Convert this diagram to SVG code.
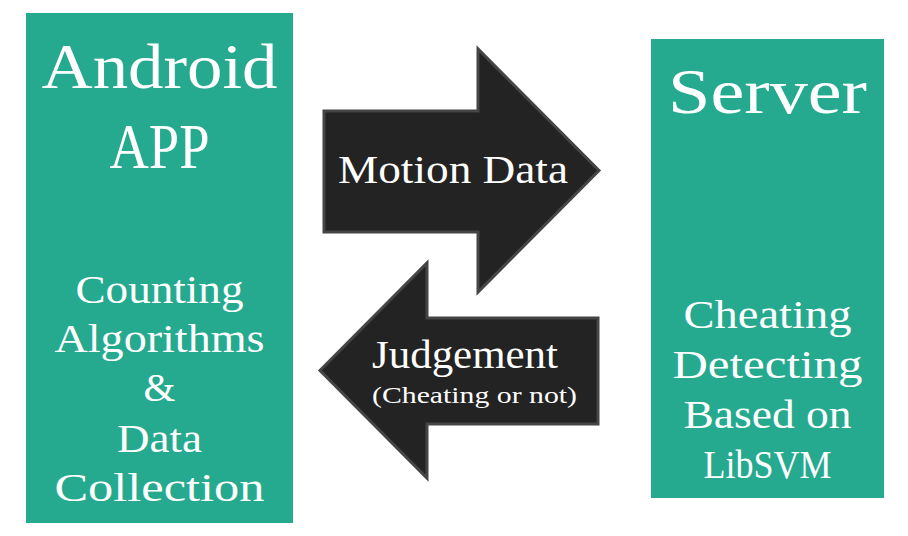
<svg xmlns="http://www.w3.org/2000/svg" width="908" height="536" viewBox="0 0 908 536">
<style>
.box{fill:#25aa8f}
.t{fill:#ffffff;font-family:"Liberation Serif","DejaVu Serif",serif;text-anchor:middle}
.big{font-size:64px}
.mid{font-size:41px}
.sm{font-size:23px}
.arrow{fill:#232323;stroke:#454545;stroke-width:3;stroke-linejoin:miter}
</style>
<rect width="908" height="536" fill="#ffffff"/>
<g id="android">
<rect class="box" x="26" y="13" width="267" height="510"/>
<text class="t big" x="159.5" y="88" textLength="236" lengthAdjust="spacingAndGlyphs">Android</text>
<text class="t big" x="159.5" y="168" textLength="100" lengthAdjust="spacingAndGlyphs">APP</text>
<text class="t mid" x="159.5" y="303" textLength="168" lengthAdjust="spacingAndGlyphs">Counting</text>
<text class="t mid" x="159.5" y="352" textLength="210" lengthAdjust="spacingAndGlyphs">Algorithms</text>
<text class="t mid" x="159.5" y="401">&amp;</text>
<text class="t mid" x="159.5" y="452" textLength="85" lengthAdjust="spacingAndGlyphs">Data</text>
<text class="t mid" x="159.5" y="501" textLength="210" lengthAdjust="spacingAndGlyphs">Collection</text>
</g>
<g id="server">
<rect class="box" x="651" y="39" width="233" height="459"/>
<text class="t big" x="767.5" y="113" textLength="199" lengthAdjust="spacingAndGlyphs">Server</text>
<text class="t mid" x="767.5" y="328" textLength="168" lengthAdjust="spacingAndGlyphs">Cheating</text>
<text class="t mid" x="767.5" y="378" textLength="190" lengthAdjust="spacingAndGlyphs">Detecting</text>
<text class="t mid" x="767.5" y="428" textLength="168" lengthAdjust="spacingAndGlyphs">Based on</text>
<text class="t mid" x="767.5" y="478" textLength="128" lengthAdjust="spacingAndGlyphs">LibSVM</text>
</g>
<g id="connectors">
<g id="motion-data">
<path class="arrow" d="M324,111 L478,111 L478,49 L599,170.5 L478,292 L478,232 L324,232 Z"/>
<text class="t mid" x="453" y="183" textLength="230" lengthAdjust="spacingAndGlyphs">Motion Data</text>
</g>
<g id="judgement">
<path class="arrow" d="M598,318 L427,318 L427,263 L320,370.5 L427,478 L427,424 L598,424 Z"/>
<text class="t mid" x="465" y="368" textLength="186" lengthAdjust="spacingAndGlyphs">Judgement</text>
<text class="t sm" x="474.5" y="403" textLength="205" lengthAdjust="spacingAndGlyphs">(Cheating or not)</text>
</g>
</g>
</svg>
